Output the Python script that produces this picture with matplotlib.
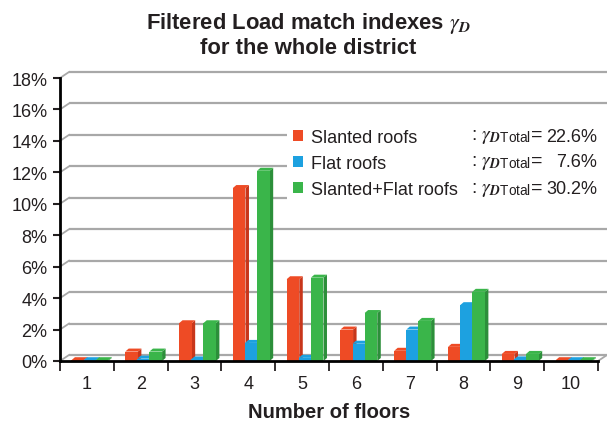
import matplotlib.pyplot as plt
from matplotlib.patches import Patch, Polygon, Rectangle
import numpy as np

plt.rcParams['font.family'] = ['Liberation Sans', 'DejaVu Sans']
plt.rcParams['mathtext.fontset'] = 'stix'

# data (percent)
floors = list(range(1, 11))
slanted = [0.05, 0.6, 2.4, 11.0, 5.2, 2.0, 0.65, 0.9, 0.45, 0.05]
flat = [0.05, 0.15, 0.1, 1.15, 0.2, 1.1, 2.0, 3.55, 0.1, 0.05]
combined = [0.05, 0.6, 2.4, 12.1, 5.3, 3.05, 2.55, 4.4, 0.45, 0.05]
series_names = ['Slanted roofs', 'Flat roofs', 'Slanted+Flat roofs']
totals = ['22.6%', '7.6%', '30.2%']
yticks = list(range(0, 20, 2))

front_cols = ['#EE4B25', '#1DA1E0', '#3AB54A']
side_cols = ['#C8361A', '#1580B8', '#2C8F3A']

W, H = 607, 427
fig = plt.figure(figsize=(W / 100, H / 100), dpi=100)
ax_l, ax_r, ax_b, ax_t = 60, 598, 362, 79
ax = fig.add_axes([ax_l / W, 1 - ax_b / H, (ax_r - ax_l) / W, (ax_b - ax_t) / H])
ax.set_xlim(0.5, 10.5)
ax.set_ylim(0, 18)

# depth offset of the 3d look, converted to data units
px_x = 10 / (ax_r - ax_l)
px_y = 18 / (ax_b - ax_t)
gdx, gdy = 9 * px_x, 6 * px_y

for v in yticks:
    ax.plot([0.5 + gdx, 10.5 + gdx], [v + gdy, v + gdy], color='#a8a8a8', lw=1.6,
            clip_on=False, zorder=1, solid_capstyle='butt')
    ax.plot([0.5, 0.5 + gdx], [v, v + gdy], color='#a8a8a8', lw=1.3, clip_on=False, zorder=1)
ax.plot([10.5, 10.5 + gdx], [0, gdy], color='#a8a8a8', lw=1.3, clip_on=False, zorder=1)

# bars with a simple side/top face
x = np.array(floors, dtype=float)
w = 0.235
offsets = [-0.17, 0.055, 0.28]
bdx, bdy = 3.5 * px_x, 3 * px_y
for k, vals in enumerate([slanted, flat, combined]):
    for xi, v in zip(x + offsets[k], vals):
        z = 3 + k
        side = Polygon([(xi + w / 2, 0), (xi + w / 2 + bdx, bdy), (xi + w / 2 + bdx, v + bdy),
                        (xi + w / 2, v)], closed=True, fc=side_cols[k], ec='none', zorder=z)
        top = Polygon([(xi - w / 2, v), (xi - w / 2 + bdx, v + bdy), (xi + w / 2 + bdx, v + bdy),
                       (xi + w / 2, v)], closed=True, fc=front_cols[k], ec='none', zorder=z)
        ax.add_patch(side)
        ax.add_patch(top)
    ax.bar(x + offsets[k], vals, width=w, color=front_cols[k], zorder=3 + k)

for s in ['top', 'right']:
    ax.spines[s].set_visible(False)
ax.spines['left'].set_linewidth(2)
ax.spines['bottom'].set_linewidth(2)
ax.spines['left'].set_zorder(10)
ax.spines['bottom'].set_zorder(10)

ax.set_yticks(yticks)
ax.set_yticklabels([f'{v}%' for v in yticks])
ax.set_xticks(floors)
ax.set_xticklabels([str(f) for f in floors])
ax.set_xticks(np.arange(0.5, 11, 1), minor=True)
ax.tick_params(axis='y', length=5, width=1.5, pad=4, labelsize=13, colors='#231f20')
ax.tick_params(axis='x', which='major', length=0, pad=10, labelsize=13, colors='#231f20')
ax.tick_params(axis='x', which='minor', length=7, width=1.3, color='#231f20')

ax.set_xlabel('Number of floors', fontsize=14.5, fontweight='bold', color='#231f20', labelpad=7)

fig.text(0.508, 1 - 35 / H, 'Filtered Load match indexes $\\gamma_{\\boldsymbol{D}}$\nfor the whole district',
         ha='center', va='center', fontsize=15.8, fontweight='bold', color='#231f20', linespacing=1.1)

# white area behind the legend block
ax.add_patch(Rectangle((287 / W, 1 - 205 / H), (W - 287) / W, 82 / H, transform=fig.transFigure,
                       fc='white', ec='none', zorder=2.5, clip_on=False))

handles = [Patch(facecolor=c, edgecolor='none') for c in front_cols]
leg = ax.legend(handles, series_names, loc='upper left', bbox_to_anchor=(289 / W, 1 - 126 / H),
                bbox_transform=fig.transFigure, frameon=False, fontsize=13,
                handlelength=0.55, handleheight=0.55, handletextpad=0.45, labelspacing=0.5,
                borderpad=0.2, borderaxespad=0)
leg.set_zorder(8)
for t in leg.get_texts():
    t.set_color('#231f20')

row_y = [137, 163, 190]
for yy, tot in zip(row_y, totals):
    fig.text(471 / W, 1 - yy / H, ': $\\gamma_{\\boldsymbol{D}\\mathregular{Total}}$=', ha='left', va='center',
             fontsize=14, color='#231f20', zorder=9)
    fig.text(597 / W, 1 - yy / H, tot, ha='right', va='center', fontsize=13, color='#231f20', zorder=9)

fig.savefig('out.png', dpi=100)
